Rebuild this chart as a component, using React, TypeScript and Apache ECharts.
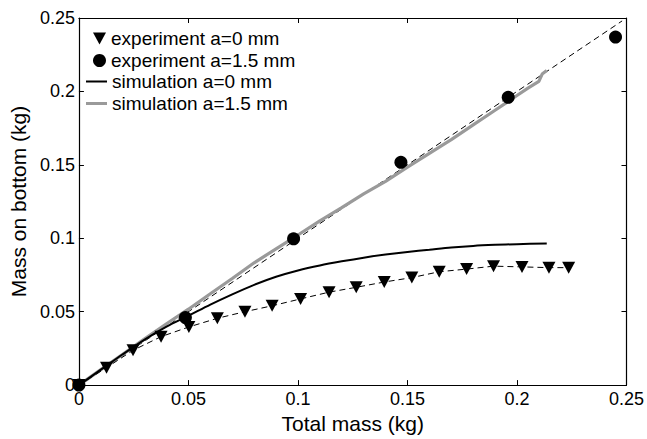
import React, { useEffect, useRef } from "react";
import * as echarts from "echarts";

const FONT = "'Liberation Sans', Arial, Helvetica, sans-serif";

// experiment a=0 mm (triangles)
const expA0X = [0, 0.0126, 0.0247, 0.0375, 0.0502, 0.0632, 0.0758, 0.0882, 0.1012, 0.1142, 0.1266, 0.1394, 0.152, 0.1645, 0.177, 0.1893, 0.2023, 0.2146, 0.2236];
const expA0Y = [0, 0.0119, 0.0237, 0.033, 0.0396, 0.0455, 0.05, 0.054, 0.0587, 0.0633, 0.0666, 0.0702, 0.0732, 0.0772, 0.079, 0.081, 0.0805, 0.08, 0.08];

// experiment a=1.5 mm (circles)
const expA15X = [0, 0.0486, 0.098, 0.147, 0.196, 0.245];
const expA15Y = [0, 0.046, 0.0996, 0.1517, 0.196, 0.237];

// simulation a=0 mm (black solid)
const simA0X = [0, 0.01, 0.02, 0.03, 0.04, 0.05, 0.06, 0.07, 0.08, 0.09, 0.1, 0.11, 0.12, 0.13, 0.14, 0.15, 0.16, 0.17, 0.18, 0.19, 0.2, 0.2136];
const simA0Y = [0, 0.0105, 0.021, 0.031, 0.0398, 0.0472, 0.0548, 0.0618, 0.0683, 0.0738, 0.0781, 0.0815, 0.0843, 0.0868, 0.0889, 0.0907, 0.0922, 0.0937, 0.0948, 0.0955, 0.096, 0.0964];

// simulation a=1.5 mm (gray solid)
const simA15X = [0, 0.01, 0.02, 0.03, 0.04, 0.05, 0.06, 0.07, 0.08, 0.09, 0.1, 0.11, 0.12, 0.13, 0.14, 0.15, 0.16, 0.17, 0.18, 0.19, 0.2, 0.205, 0.21, 0.2115, 0.2136];
const simA15Y = [0, 0.0105, 0.021, 0.0315, 0.0418, 0.0517, 0.0622, 0.0726, 0.0833, 0.0928, 0.1022, 0.1118, 0.1208, 0.1302, 0.1388, 0.1484, 0.1578, 0.1672, 0.1772, 0.1872, 0.1972, 0.2022, 0.2068, 0.2118, 0.2142];

// reference line y = x (dashed)
const refX = [0, 0.248];
const refY = [0, 0.248];

const xTicks = [0, 0.05, 0.1, 0.15, 0.2, 0.25];
const yTicks = [0, 0.05, 0.1, 0.15, 0.2, 0.25];

const names = ["experiment a=0 mm", "experiment a=1.5 mm", "simulation a=0 mm", "simulation a=1.5 mm"];
const xTitle = "Total mass (kg)";
const yTitle = "Mass on bottom (kg)";

const zip = (xs: number[], ys: number[]) => xs.map((x, i) => [x, ys[i]]);
const fmt = (v: number) => String(parseFloat(v.toFixed(3)));

const TRI = "path://M0,0 L12,0 L6,11 Z";

export default function App() {
  const ref = useRef<HTMLDivElement>(null);
  useEffect(() => {
    if (!ref.current) return;
    const chart = echarts.init(ref.current, undefined, { renderer: "svg" });
    const axisCommon = {
      type: "value" as const,
      min: xTicks[0],
      max: xTicks[xTicks.length - 1],
      interval: 0.05,
      splitLine: { show: false },
      axisLine: { show: true, onZero: false, lineStyle: { color: "#000", width: 1.2 } },
      axisTick: { show: true, inside: true, length: 5, lineStyle: { color: "#000", width: 1 } },
    };
    const legendBase = (name: string, top: number, extra: any) => ({
      data: [{ name, icon: extra.icon }],
      left: extra.left,
      top,
      orient: "vertical",
      padding: 0,
      itemWidth: extra.itemWidth,
      itemHeight: extra.itemHeight,
      itemStyle: extra.color ? { color: extra.color, opacity: 1, borderWidth: 0 } : { opacity: 1, borderWidth: 0 },
      textStyle: { fontFamily: FONT, fontSize: 19, color: "#000" },
      selectedMode: false,
    });
    chart.setOption({
      animation: false,
      backgroundColor: "#fff",
      grid: { left: 72, right: 19, top: 18, bottom: 42, containLabel: false },
      legend: [
        legendBase(names[0], 29, { left: 93, itemWidth: 13, itemHeight: 12, icon: TRI }),
        legendBase(names[1], 51, { left: 93, itemWidth: 13, itemHeight: 13, icon: "circle" }),
        legendBase(names[2], 72, { left: 86, itemWidth: 21, itemHeight: 2, icon: "rect", color: "#000" }),
        legendBase(names[3], 94, { left: 86, itemWidth: 21, itemHeight: 3, icon: "rect", color: "#9a9a9a" }),
      ],
      xAxis: [
        {
          ...axisCommon,
          position: "bottom",
          name: xTitle,
          nameLocation: "middle",
          nameGap: 17,
          nameTextStyle: { fontFamily: FONT, fontSize: 21, color: "#000" },
          axisLabel: { fontFamily: FONT, fontSize: 18, color: "#000", margin: 5, formatter: fmt },
        },
        { ...axisCommon, position: "top", axisLabel: { show: false } },
      ],
      yAxis: [
        {
          ...axisCommon,
          min: yTicks[0],
          max: yTicks[yTicks.length - 1],
          position: "left",
          name: yTitle,
          nameLocation: "middle",
          nameGap: 42,
          nameRotate: 90,
          nameTextStyle: { fontFamily: FONT, fontSize: 21, color: "#000" },
          axisLabel: { fontFamily: FONT, fontSize: 18, color: "#000", margin: 4, formatter: fmt },
        },
        { ...axisCommon, min: yTicks[0], max: yTicks[yTicks.length - 1], position: "right", axisLabel: { show: false } },
      ],
      series: [
        {
          name: "y=x",
          type: "line",
          data: zip(refX, refY),
          symbol: "none",
          lineStyle: { color: "#000", width: 1, type: [6, 4] },
          z: 1,
          silent: true,
        },
        {
          name: names[3],
          type: "line",
          data: zip(simA15X, simA15Y),
          symbol: "none",
          lineStyle: { color: "#9a9a9a", width: 3.2 },
          itemStyle: { color: "#9a9a9a" },
          z: 2,
        },
        {
          name: names[2],
          type: "line",
          data: zip(simA0X, simA0Y),
          symbol: "none",
          smooth: 0.3,
          lineStyle: { color: "#000", width: 2 },
          itemStyle: { color: "#000" },
          z: 3,
        },
        {
          name: names[0],
          type: "line",
          data: zip(expA0X, expA0Y),
          symbol: TRI,
          symbolSize: [13, 12],
          showSymbol: true,
          lineStyle: { color: "#000", width: 1, type: [6, 4] },
          itemStyle: { color: "#000" },
          z: 4,
        },
        {
          name: names[1],
          type: "scatter",
          data: zip(expA15X, expA15Y),
          symbol: "circle",
          symbolSize: 13,
          itemStyle: { color: "#000", opacity: 1 },
          z: 5,
        },
      ],
    });
    return () => chart.dispose();
  }, []);
  return (
    <div
      ref={ref}
      style={{ position: "fixed", left: 0, top: 0, width: 647, height: 439, background: "#fff" }}
    />
  );
}
